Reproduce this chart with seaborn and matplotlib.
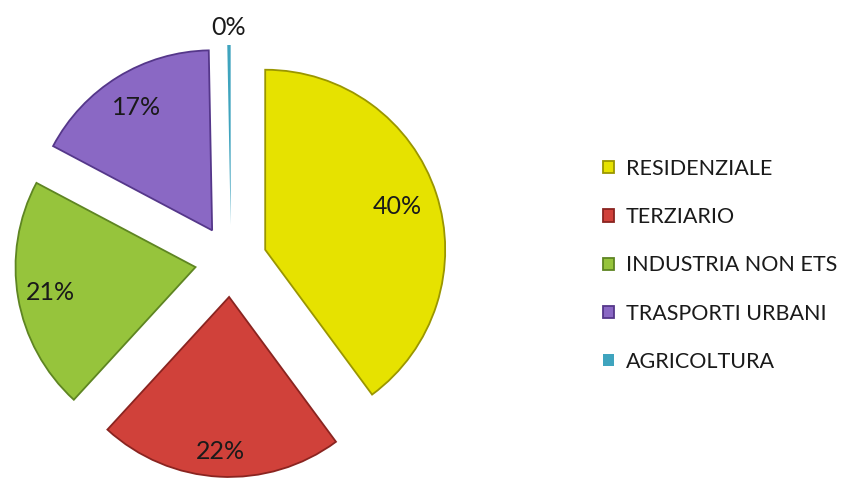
import numpy as np
import matplotlib
matplotlib.use("Agg")
import matplotlib.pyplot as plt
import seaborn as sns

# Energy consumption share by sector
sectors = ["RESIDENZIALE", "TERZIARIO", "INDUSTRIA NON ETS", "TRASPORTI URBANI", "AGRICOLTURA"]
shares = [40, 22, 21, 17, 0.3]
colors = ["#E6E200", "#D0413A", "#96C43C", "#8A68C4", "#3FA4BE"]
edge_colors = ["#9A9600", "#8A2420", "#5E8522", "#55378A", "#26708A"]

# distance of each percentage label from its wedge apex (fraction of radius)
label_dist = [0.77, 0.86, 0.82, 0.80, 1.10]

sns.set_theme(style="white")
plt.rcParams["font.family"] = ["Lato", "DejaVu Sans"]

fig = plt.figure(figsize=(8.48, 4.82), dpi=100)
ax = fig.add_axes([0, 0, 1, 1])

wedges, _ = ax.pie(
    shares,
    colors=colors,
    startangle=90,
    counterclock=False,
    explode=[0.2] * len(shares),
    radius=1.0,
    wedgeprops=dict(linewidth=1.3),
)
for w, ec, v in zip(wedges, edge_colors, shares):
    if v < 1:
        w.set_linewidth(0)
    else:
        w.set_edgecolor(ec)

total = sum(shares)
for w, v, d in zip(wedges, shares, label_dist):
    mid = np.deg2rad((w.theta1 + w.theta2) / 2)
    cx, cy = w.center
    ax.text(cx + d * np.cos(mid), cy + d * np.sin(mid), f"{v / total * 100:.0f}%",
            ha="center", va="center", fontsize=18, color="#1a1a1a")

ax.set_aspect("auto")
ax.set_xlim(-231 / 180, 617 / 180)
ax.set_ylim(-221 / 180, 261 / 180)
ax.axis("off")

leg = ax.legend(
    wedges, sectors,
    loc="upper left",
    bbox_to_anchor=(603 / 848, 1 - 159 / 482),
    bbox_transform=fig.transFigure,
    frameon=False,
    prop=dict(family="Lato", size=15.5),
    handlelength=0.5,
    handleheight=0.5,
    handletextpad=0.55,
    labelspacing=1.31,
    borderaxespad=0,
    borderpad=0,
)
for t in leg.get_texts():
    t.set_color("#1a1a1a")

fig.savefig("out.png", dpi=100, facecolor="white")
